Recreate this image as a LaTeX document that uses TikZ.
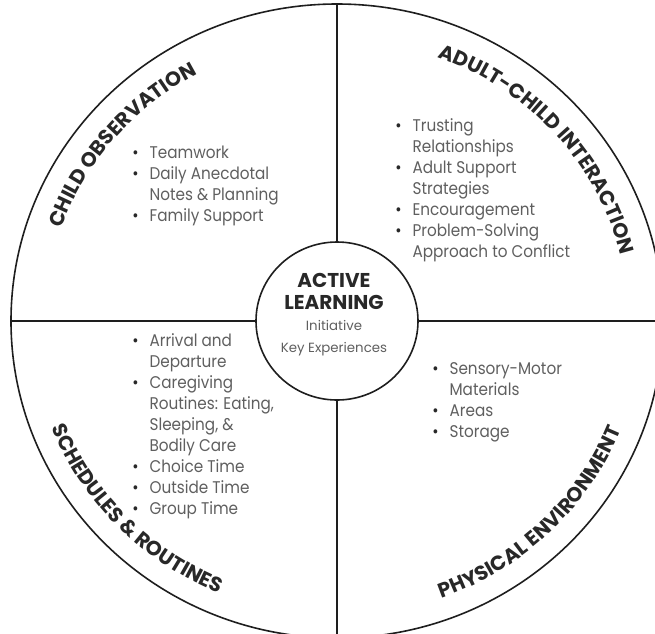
\documentclass[tikz,border=0pt]{standalone}
\usepackage{fontspec}
\setmainfont{Poppins}
\newfontfamily\listfont{Poppins}[FakeStretch=0.9]
\usetikzlibrary{shapes.geometric, decorations.text}
\definecolor{inkdark}{RGB}{40, 40, 40}
\definecolor{inkgray}{RGB}{95, 95, 95}
\definecolor{rimline}{RGB}{30, 30, 30}

% bullet and hanging indent for the item lists
\newcommand{\itm}{\makebox[13pt][l]{\textcolor{inkdark}{\textbullet}}}
\newcommand{\cnt}{\makebox[13pt]{}}

\begin{document}
\begin{tikzpicture}[
  x=0.75pt, y=0.75pt,
  ring/.style={draw=rimline, line width=1.2pt, ellipse, inner sep=0pt},
  spoke/.style={draw=rimline, line width=1.2pt},
  items/.style={anchor=north west, align=left, inner sep=0pt, text=inkgray, font=\listfont\fontsize{12.7}{15.75}\selectfont},
  arctitle/.style={decorate, decoration={text along path, text align=center, text color=inkdark,
    text={|\bfseries\fontsize{15.3}{15.3}\selectfont|#1}}}
]
  \useasboundingbox (-337,-312) rectangle (318,321);

  % wheel and hub
  \node[ring, minimum width=489pt, minimum height=475.5pt] (wheel) at (0,0) {};
  \node[ring, minimum width=121.5pt, minimum height=118.5pt] (hub) at (0,0) {};

  \draw[spoke] (hub.north) -- (wheel.north);
  \draw[spoke] (hub.south) -- (wheel.south);
  \draw[spoke] (hub.west) -- (wheel.west);
  \draw[spoke] (hub.east) -- (wheel.east);

  % centre
  \node[font=\bfseries\fontsize{15}{16.5}\selectfont, text=inkdark, align=center] (active) at (-3,30) {ACTIVE\\LEARNING};
  \node[font=\fontsize{10}{16.5}\selectfont, text=inkgray, align=center] (keyexp) at (-3,-17) {Initiative\\Key Experiences};

  % quarter titles along the rim
  \path[arctitle={CHILD OBSERVATION}] (180:292 and 281) arc[start angle=180, end angle=100, x radius=292, y radius=281];
  \path[arctitle={ADULT-CHILD INTERACTION}] (81.5:292 and 281) arc[start angle=81.5, end angle=1.5, x radius=292, y radius=281];
  \path[arctitle={SCHEDULES {\&} ROUTINES}] (184:306 and 295) arc[start angle=184, end angle=264, x radius=306, y radius=295];
  \path[arctitle={PHYSICAL ENVIRONMENT}] (274.4:306 and 295) arc[start angle=274.4, end angle=354.4, x radius=306, y radius=295];

  % item lists
  \node[items] (obslist) at (-205,175) {\itm Teamwork\\ \itm Daily Anecdotal\\ \cnt Notes \& Planning\\ \itm Family Support};
  \node[items] (adultlist) at (58,203) {\itm Trusting\\ \cnt Relationships\\ \itm Adult Support\\ \cnt Strategies\\ \itm Encouragement\\ \itm Problem-Solving\\ \cnt Approach to Conflict};
  \node[items] (schedlist) at (-205,-12) {\itm Arrival and\\ \cnt Departure\\ \itm Caregiving\\ \cnt Routines: Eating,\\ \cnt Sleeping, \&\\ \cnt Bodily Care\\ \itm Choice Time\\ \itm Outside Time\\ \itm Group Time};
  \node[items] (envlist) at (95,-41) {\itm Sensory-Motor\\ \cnt Materials\\ \itm Areas\\ \itm Storage};
\end{tikzpicture}
\end{document}
